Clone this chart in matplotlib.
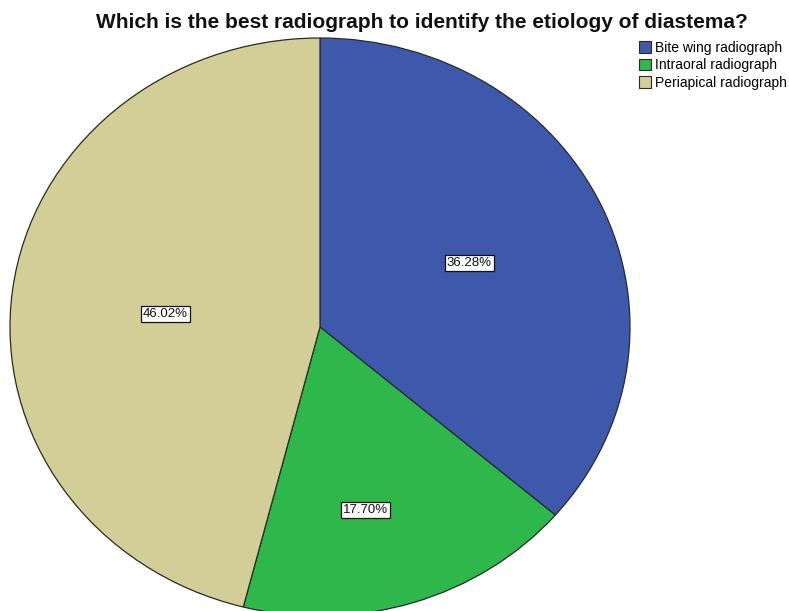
import matplotlib
matplotlib.use("Agg")
import matplotlib.pyplot as plt
import numpy as np

plt.rcParams['font.family'] = ['Liberation Sans', 'DejaVu Sans']

categories = ["Bite wing radiograph", "Intraoral radiograph", "Periapical radiograph"]
percentages = [36.28, 17.70, 46.02]
colors = ["#3E58AC", "#2EB84B", "#D3CE97"]
label_radius = [0.53, 0.65, 0.50]
label_angle_shift = [0.0, -4.5, 2.0]

fig = plt.figure(figsize=(7.89, 6.11), dpi=100)
ax = fig.add_axes([10 / 789, (611 - 616) / 611, 620 / 789, 578 / 611])

wedges, texts = ax.pie(
    percentages, colors=colors, startangle=90, counterclock=False,
    radius=1.0, wedgeprops=dict(edgecolor="#2a2a2a", linewidth=0.9),
)
ax.set_aspect("auto")
ax.set_xlim(-1.0, 1.0)
ax.set_ylim(-1.0, 1.0)
ax.axis("off")

for w, pct, r, shift in zip(wedges, percentages, label_radius, label_angle_shift):
    mid = np.deg2rad((w.theta1 + w.theta2) / 2 + shift)
    ax.text(r * np.cos(mid), r * np.sin(mid), f"{pct:.2f}%",
            ha="center", va="center", fontsize=9.5, color="#111111",
            bbox=dict(boxstyle="square,pad=0.15", facecolor="white",
                      edgecolor="#111111", linewidth=0.9))

fig.text(422 / 789, 1 - 22 / 611, "Which is the best radiograph to identify the etiology of diastema?",
         ha="center", va="center", fontsize=15, fontweight="bold", color="#111111")

leg = fig.legend(wedges, categories, loc="upper left",
                 bbox_to_anchor=(629 / 789, 1 - 31 / 611), frameon=False,
                 fontsize=10, handlelength=0.9, handleheight=0.9,
                 handletextpad=0.25, labelspacing=0.25, borderpad=0.2)
for h in leg.legend_handles:
    h.set_edgecolor("#2a2a2a")
    h.set_linewidth(0.8)

fig.savefig("out.png", dpi=100, facecolor="white")
